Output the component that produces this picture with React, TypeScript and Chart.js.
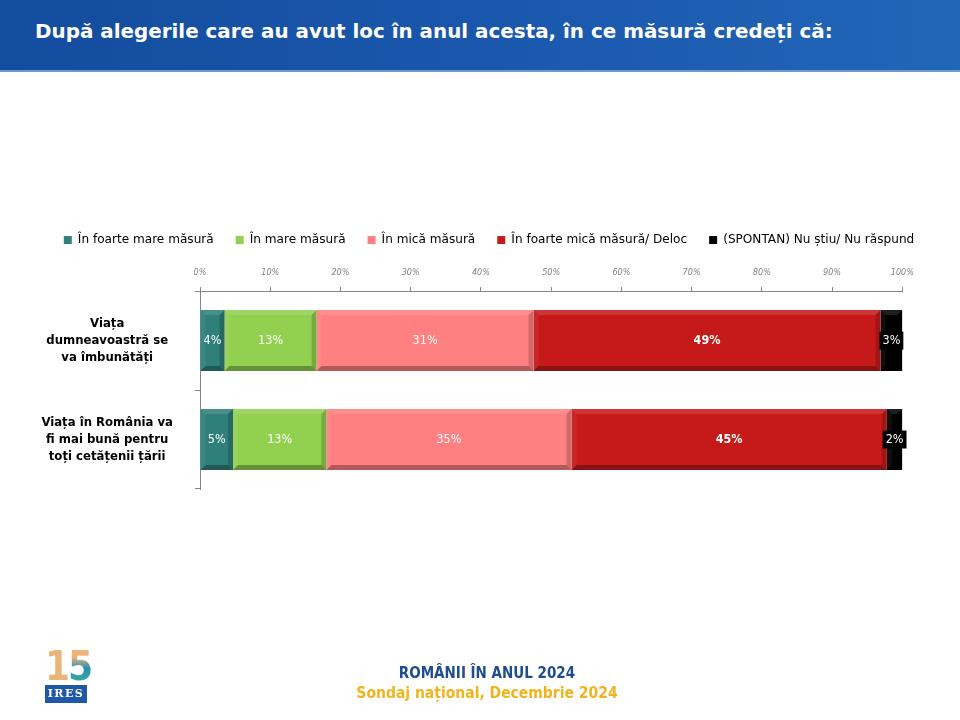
import React, { useEffect, useRef } from "react";
import { Chart, registerables } from "chart.js";

Chart.register(...registerables);

const categories: string[][] = [
  ["Viața", "dumneavoastră se", "va îmbunătăți"],
  ["Viața în România va", "fi mai bună pentru", "toți cetățenii țării"],
];
const seriesNames = [
  "În foarte mare măsură",
  "În mare măsură",
  "În mică măsură",
  "În foarte mică măsură/ Deloc",
  "(SPONTAN) Nu știu/ Nu răspund",
];
const veryHigh = [3.5, 4.7];
const high = [13.1, 13.3];
const low = [30.9, 34.9];
const veryLow = [49.4, 44.9];
const dontKnow = [3.1, 2.2];
const seriesColors = ["#2F807A", "#92D050", "#FF8080", "#C61A1A", "#000000"];
const xMin = 0;
const xMax = 100;
const xStep = 10;

const TITLE = "După alegerile care au avut loc în anul acesta, în ce măsură credeți că:";
const FOOT1 = "ROMÂNII ÎN ANUL 2024";
const FOOT2 = "Sondaj național, Decembrie 2024";

function poly(ctx: CanvasRenderingContext2D, pts: number[][], fill: string) {
  ctx.beginPath();
  ctx.moveTo(pts[0][0], pts[0][1]);
  for (let i = 1; i < pts.length; i++) ctx.lineTo(pts[i][0], pts[i][1]);
  ctx.closePath();
  ctx.fillStyle = fill;
  ctx.fill();
}

const barDecor = {
  id: "barDecor",
  afterDatasetsDraw(chart: any) {
    const ctx: CanvasRenderingContext2D = chart.ctx;
    ctx.save();
    chart.data.datasets.forEach((ds: any, di: number) => {
      const meta = chart.getDatasetMeta(di);
      meta.data.forEach((bar: any) => {
        const p = bar.getProps(["x", "y", "base", "height"], true);
        const left = Math.min(p.base, p.x);
        const right = Math.max(p.base, p.x);
        const top = p.y - p.height / 2;
        const bottom = p.y + p.height / 2;
        const b = Math.min(5, (right - left) / 2);
        poly(ctx, [[left, top], [right, top], [right - b, top + b], [left + b, top + b]], "rgba(255,255,255,0.12)");
        poly(ctx, [[left, top], [left + b, top + b], [left + b, bottom - b], [left, bottom]], "rgba(255,255,255,0.06)");
        poly(ctx, [[left, bottom], [left + b, bottom - b], [right - b, bottom - b], [right, bottom]], "rgba(0,0,0,0.30)");
        poly(ctx, [[right, top], [right, bottom], [right - b, bottom - b], [right - b, top + b]], "rgba(0,0,0,0.18)");
      });
    });
    chart.data.datasets.forEach((ds: any, di: number) => {
      const meta = chart.getDatasetMeta(di);
      meta.data.forEach((bar: any, i: number) => {
        const p = bar.getProps(["x", "y", "base"], true);
        const cx = (p.x + p.base) / 2;
        const txt = Math.round(ds.data[i]) + "%";
        ctx.font = (di === 3 ? "bold " : "") + "12.5px 'DejaVu Sans Condensed', sans-serif";
        ctx.textAlign = "center";
        ctx.textBaseline = "middle";
        const w = ctx.measureText(txt).width;
        if (di === 4) {
          ctx.fillStyle = "#000";
          ctx.fillRect(cx - w / 2 - 3, p.y - 9, w + 6, 18);
        }
        ctx.fillStyle = "#FFFFFF";
        ctx.fillText(txt, cx, p.y + 0.5);
      });
    });
    ctx.restore();
  },
};

function ChartView() {
  const ref = useRef<HTMLCanvasElement | null>(null);
  useEffect(() => {
    if (!ref.current) return;
    const values = [veryHigh, high, low, veryLow, dontKnow];
    const chart = new Chart(ref.current, {
      type: "bar",
      data: {
        labels: categories as any,
        datasets: seriesNames.map((name, i) => ({
          label: name,
          data: values[i],
          backgroundColor: seriesColors[i],
          borderWidth: 0,
          barPercentage: 0.616,
          categoryPercentage: 1,
        })),
      },
      options: {
        indexAxis: "y",
        responsive: false,
        animation: false,
        devicePixelRatio: 1,
        layout: { padding: { top: 212, left: 18, right: 0, bottom: 231 } },
        plugins: {
          tooltip: { enabled: false },
          legend: {
            position: "top",
            labels: {
              boxWidth: 8,
              boxHeight: 8,
              padding: 22,
              color: "#000",
              font: { family: "'DejaVu Sans', sans-serif", size: 12.1 },
            },
          },
        },
        scales: {
          x: {
            type: "linear",
            position: "top",
            stacked: true,
            min: xMin,
            max: xMax,
            ticks: {
              stepSize: xStep,
              padding: 9,
              color: "#7F7F7F",
              font: { family: "'DejaVu Sans Condensed', sans-serif", size: 9, style: "italic" },
              callback: (v: any) => v + "%",
            },
            grid: { drawOnChartArea: false, tickLength: 4, color: "#868686" },
            border: { color: "#868686" },
            afterFit: (s: any) => { s.height = 35; },
          },
          y: {
            type: "category",
            position: "left",
            stacked: true,
            ticks: {
              crossAlign: "center",
              padding: 22,
              color: "#000",
              font: { family: "'DejaVu Sans Condensed', sans-serif", size: 13, weight: "bold", lineHeight: 1.3 },
            },
            grid: { offset: true, drawOnChartArea: false, tickLength: 5, color: "#868686" },
            border: { color: "#868686" },
            afterFit: (s: any) => { s.width = 182; },
          },
          yR: {
            type: "category",
            position: "right",
            display: true,
            ticks: { display: false },
            grid: { display: false },
            border: { display: false },
            afterFit: (s: any) => { s.width = 57.7; },
          },
        },
      } as any,
      plugins: [barDecor],
    });
    return () => chart.destroy();
  }, []);
  return <canvas ref={ref} width={960} height={720} style={{ position: "absolute", left: 0, top: 0, width: 960, height: 720 }} />;
}

export default function App() {
  return (
    <div style={{ position: "fixed", left: 0, top: 0, width: 960, height: 720, background: "#fff", overflow: "hidden" }}>
      <div
        style={{
          position: "absolute", left: 0, top: 0, width: 960, height: 70,
          background: "linear-gradient(90deg, #144C9E 0%, #1A57AC 50%, #2266B8 100%)",
          borderBottom: "2px solid #6E98D0", zIndex: 2,
        }}
      >
        <div
          style={{
            position: "absolute", left: 35, top: 19, color: "#fff", whiteSpace: "nowrap",
            font: "bold 19.9px 'DejaVu Sans', sans-serif", lineHeight: "26px",
          }}
        >
          {TITLE}
        </div>
      </div>
      <ChartView />
      <div style={{ position: "absolute", left: 45, top: 648, width: 44, zIndex: 2, textAlign: "center" }}>
        <div style={{ font: "bold 40px 'DejaVu Sans Condensed', sans-serif", lineHeight: "36px", letterSpacing: -2 }}>
          <span style={{ color: "#EDB47A" }}>1</span>
          <span style={{ background: "linear-gradient(180deg, #EDB47A 0%, #EDB47A 30%, #2A8FB0 55%, #3CB8A0 100%)", WebkitBackgroundClip: "text", backgroundClip: "text", color: "transparent" }}>5</span>
        </div>
        <div style={{ marginTop: 1, background: "#2058A8", color: "#fff", font: "bold 11px 'DejaVu Serif', serif", lineHeight: "18px", letterSpacing: 1.5, width: 42 }}>
          IRES
        </div>
      </div>
      <div style={{ position: "absolute", left: 0, top: 664, width: 974, textAlign: "center", color: "#1F4E8C", font: "bold 15px 'DejaVu Sans Condensed', sans-serif", lineHeight: "18px", zIndex: 2 }}>
        {FOOT1}
      </div>
      <div style={{ position: "absolute", left: 0, top: 684, width: 974, textAlign: "center", color: "#F2B41C", font: "bold 15.5px 'DejaVu Sans Condensed', sans-serif", lineHeight: "18px", zIndex: 2 }}>
        {FOOT2}
      </div>
    </div>
  );
}
